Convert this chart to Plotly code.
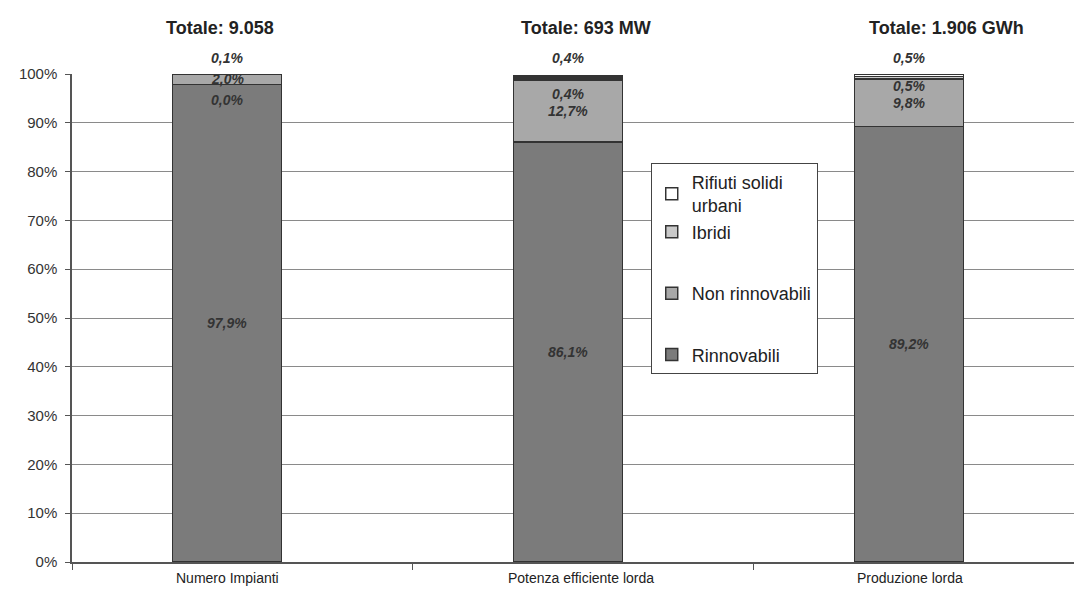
import plotly.graph_objects as go

categories = ["Numero Impianti", "Potenza efficiente lorda", "Produzione lorda"]
totals = ["Totale: 9.058", "Totale: 693 MW", "Totale: 1.906 GWh"]
rinnovabili = [97.9, 86.1, 89.2]
non_rinnovabili = [2.0, 12.7, 9.8]
ibridi = [0.0, 0.4, 0.5]
rifiuti = [0.1, 0.4, 0.5]

series = [
    ("Rinnovabili", rinnovabili, "#7b7b7b", "c"),
    ("Non rinnovabili", non_rinnovabili, "#a8a8a8", "b"),
    ("Ibridi", ibridi, "#c9c9c9", "a"),
    ("Rifiuti solidi<br>urbani", rifiuti, "#ffffff", "a"),
]

def fmt(v):
    return f"{v:.1f}".replace(".", ",") + "%"

fig = go.Figure()
for i, (name, vals, col, grp) in enumerate(series):
    fig.add_trace(go.Bar(
        x=categories, y=vals, name=name, legendgroup=grp,
        legendrank=len(series) - i,
        marker=dict(color=col, line=dict(color="#333333", width=1.5)),
        width=0.32, offset=-0.205,
    ))

label_font = dict(family="Liberation Sans, Arial, sans-serif", size=14,
                  color="#333333", weight="bold", style="italic")
ibridi_shift = [-21, 17, 17]
annotations = []
for k, cat in enumerate(categories):
    r, n, ib, rf = rinnovabili[k], non_rinnovabili[k], ibridi[k], rifiuti[k]
    common = dict(x=cat, xref="x", yref="y", showarrow=False, font=label_font, xshift=-15)
    annotations.append(dict(y=r / 2, text=fmt(r), **common))
    annotations.append(dict(y=r + n / 2, text=fmt(n), **common))
    annotations.append(dict(y=r + n / 2, text=fmt(ib), yshift=ibridi_shift[k], **common))
    annotations.append(dict(y=100, text=fmt(rf), yshift=16, **common))

title_shift = [-22, 3, 22]
for k, cat in enumerate(categories):
    annotations.append(dict(
        x=cat, xref="x", y=1.094, yref="paper", yanchor="middle",
        text=f"<b>{totals[k]}</b>", showarrow=False, xshift=title_shift[k],
        font=dict(family="Liberation Sans, Arial, sans-serif", size=18, color="#222222"),
    ))
    annotations.append(dict(
        x=cat, xref="x", y=-0.033, yref="paper", yanchor="middle",
        text=cat, showarrow=False, xshift=[-15, -2, -14][k],
        font=dict(family="Liberation Sans Narrow, Arial Narrow, sans-serif", size=14, color="#222222"),
    ))

fig.update_layout(
    width=1074, height=588,
    margin=dict(l=64, r=0, t=66, b=34),
    paper_bgcolor="white", plot_bgcolor="white",
    barmode="stack",
    showlegend=True,
    legend=dict(
        x=0.573, y=0.818, xanchor="left", yanchor="top",
        bgcolor="white", bordercolor="#444444", borderwidth=1,
        font=dict(family="Liberation Sans, Arial, sans-serif", size=18, color="#222222"),
        traceorder="grouped", tracegroupgap=35,
        itemwidth=30,
    ),
    annotations=annotations,
    xaxis=dict(
        range=[-0.5, 2.462], showticklabels=False, tickson="boundaries",
        ticks="outside", ticklen=6, tickcolor="#555555",
        showline=True, linecolor="#555555", linewidth=1.5, showgrid=False,
    ),
    yaxis=dict(
        range=[0, 100], dtick=10, ticksuffix="%",
        ticks="outside", ticklen=5, tickcolor="#555555",
        ticklabelstandoff=5,
        showline=True, linecolor="#555555", linewidth=1.5,
        showgrid=True, gridcolor="#8a8a8a", gridwidth=1,
        zeroline=False,
        tickfont=dict(family="Liberation Sans, Arial, sans-serif", size=15, color="#333333"),
    ),
)

fig.write_html("out.html")
